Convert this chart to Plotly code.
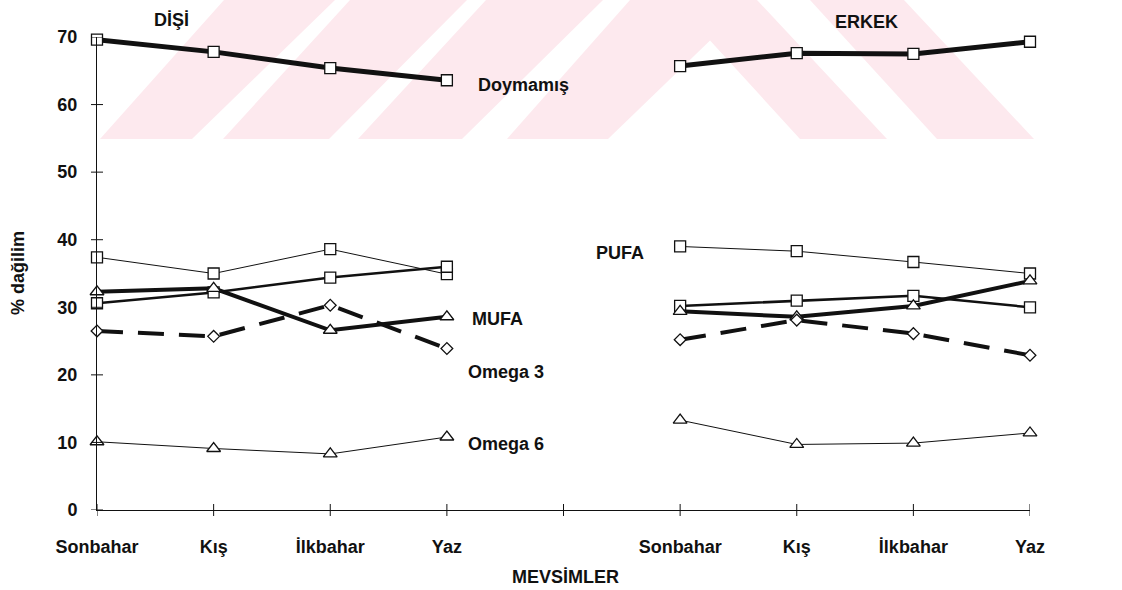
import plotly.graph_objects as go

# Seasons and axis labels (left block: Dişi, right block: Erkek, blank slot between)
SEASONS = ["Sonbahar", "Kış", "İlkbahar", "Yaz"]
TICK_LABELS = SEASONS + [""] + SEASONS
X_POS = list(range(1, 10))
Y_TICKS = [0, 10, 20, 30, 40, 50, 60, 70]

# % distribution – female (Dişi)
DISI_DOYMAMIS = [69.6, 67.8, 65.4, 63.6]
DISI_PUFA = [37.4, 35.0, 38.6, 34.9]
DISI_DOYMUS = [30.6, 32.2, 34.4, 36.0]
DISI_MUFA = [32.3, 32.8, 26.6, 28.6]
DISI_OMEGA3 = [26.5, 25.7, 30.3, 23.9]
DISI_OMEGA6 = [10.1, 9.1, 8.3, 10.8]

# % distribution – male (Erkek)
ERKEK_DOYMAMIS = [65.7, 67.6, 67.5, 69.3]
ERKEK_PUFA = [39.0, 38.3, 36.7, 35.0]
ERKEK_DOYMUS = [30.2, 31.0, 31.7, 30.0]
ERKEK_MUFA = [29.4, 28.6, 30.2, 33.9]
ERKEK_OMEGA3 = [25.2, 28.1, 26.1, 22.9]
ERKEK_OMEGA6 = [13.3, 9.7, 9.9, 11.4]

SERIES = [
    ("Doymamış", DISI_DOYMAMIS, ERKEK_DOYMAMIS),
    ("PUFA", DISI_PUFA, ERKEK_PUFA),
    ("Doymuş", DISI_DOYMUS, ERKEK_DOYMUS),
    ("MUFA", DISI_MUFA, ERKEK_MUFA),
    ("Omega 3", DISI_OMEGA3, ERKEK_OMEGA3),
    ("Omega 6", DISI_OMEGA6, ERKEK_OMEGA6),
]

INK = "#111111"
STYLES = {
    "Doymamış": dict(width=5, dash="solid", symbol="square", size=11),
    "PUFA": dict(width=1, dash="solid", symbol="square", size=11),
    "Doymuş": dict(width=2.5, dash="solid", symbol="square", size=11),
    "MUFA": dict(width=4, dash="solid", symbol="triangle-up", size=12),
    "Omega 3": dict(width=4, dash="26px,15px", symbol="diamond", size=9),
    "Omega 6": dict(width=1, dash="solid", symbol="triangle-up", size=12),
}

FONT = "Liberation Sans, Arial, sans-serif"

# plot area geometry (pixels)
W, H = 1122, 590
ML, MR, MT, MB = 97, 92, 37, 80
PW, PH = W - ML - MR, H - MT - MB
TICK_HALF = 6  # tick marks cross the axis, this many px on each side

fig = go.Figure()

for name, fem, mal in SERIES:
    st = STYLES[name]
    fig.add_trace(go.Scatter(
        x=X_POS,
        y=fem + [None] + mal,
        mode="lines+markers",
        name=name,
        connectgaps=False,
        cliponaxis=False,
        line=dict(color=INK, width=st["width"], dash=st["dash"]),
        marker=dict(symbol=st["symbol"], size=st["size"], color="white",
                    line=dict(color=INK, width=1.3)),
        showlegend=False,
    ))

# faint background emblem made of slanted pink bands (pixel coordinates)
EMBLEM_BANDS = [
    [(100, 139), (192, 139), (335, 0), (224, 0)],
    [(223, 139), (329, 139), (467, 0), (350, 0)],
    [(358, 139), (462, 139), (603, 0), (486, 0)],
    [(507, 139), (608, 139), (752, 0), (630, 0)],
    [(800, 139), (887, 139), (757, 0), (673, 0)],
    [(937, 139), (1034, 139), (904, 0), (810, 0)],
]


def to_paper(px, py):
    return (px - ML) / PW, (MT + PH - py) / PH


for band in EMBLEM_BANDS:
    pts = [to_paper(px, py) for px, py in band]
    path = "M " + " L ".join(f"{x:.5f},{y:.5f}" for x, y in pts) + " Z"
    fig.add_shape(type="path", path=path, xref="paper", yref="paper",
                  fillcolor="#fde9ee", line=dict(width=0), layer="below")

# tick marks crossing both axes
for v in Y_TICKS:
    fig.add_shape(type="line", xref="paper", yref="y",
                  x0=-TICK_HALF / PW, x1=TICK_HALF / PW, y0=v, y1=v,
                  line=dict(color=INK, width=1))
for v in X_POS:
    fig.add_shape(type="line", xref="x", yref="paper",
                  x0=v, x1=v, y0=-TICK_HALF / PH, y1=TICK_HALF / PH,
                  line=dict(color=INK, width=1))

label_font = dict(family=FONT, size=18, color=INK, weight="bold")

# series labels next to their lines
SERIES_LABELS = [
    ("Doymamış", 4.25, 62.9),
    ("MUFA", 4.2, 28.3),
    ("Omega 3", 4.16, 20.4),
    ("Omega 6", 4.16, 9.8),
    ("PUFA", 5.26, 38.0),
    ("Doymuş", 9.09, 28.1),
]
for text, x, y in SERIES_LABELS:
    fig.add_annotation(x=x, y=y, text=text, showarrow=False, xanchor="left",
                       yanchor="middle", font=label_font)

# group headings above the plot area
GROUPS = [("DİŞİ", 1.64, 20), ("ERKEK", 7.6, 22)]
for text, x, py in GROUPS:
    fig.add_annotation(x=x, xref="x", yref="paper", y=(MT + PH - py) / PH,
                       text=text, showarrow=False, xanchor="center",
                       yanchor="middle", font=label_font)

# axis titles
fig.add_annotation(xref="paper", yref="paper", x=(565 - ML) / PW,
                   y=(MT + PH - 577) / PH, text="MEVSİMLER", showarrow=False,
                   xanchor="center", yanchor="middle", font=label_font)
fig.add_annotation(xref="paper", yref="paper", x=(18 - ML) / PW,
                   y=(MT + PH - 273) / PH, text="% dağilim", showarrow=False,
                   textangle=-90, xanchor="center", yanchor="middle",
                   font=label_font)

fig.update_layout(
    width=W, height=H,
    margin=dict(l=ML, r=MR, t=MT, b=MB, pad=0),
    paper_bgcolor="white", plot_bgcolor="rgba(0,0,0,0)",
    font=dict(family=FONT, color=INK),
    xaxis=dict(range=[1, 9], tickmode="array", tickvals=X_POS,
               ticktext=TICK_LABELS, ticks="", showline=True,
               linecolor=INK, linewidth=1, tickfont=label_font,
               ticklabelstandoff=20, showgrid=False, zeroline=False),
    yaxis=dict(range=[0, 70], tickmode="array", tickvals=Y_TICKS,
               ticks="", showline=True, linecolor=INK, linewidth=1,
               tickfont=label_font, ticklabelstandoff=15, showgrid=False,
               zeroline=False),
    showlegend=False,
)

fig.write_html("out.html")
